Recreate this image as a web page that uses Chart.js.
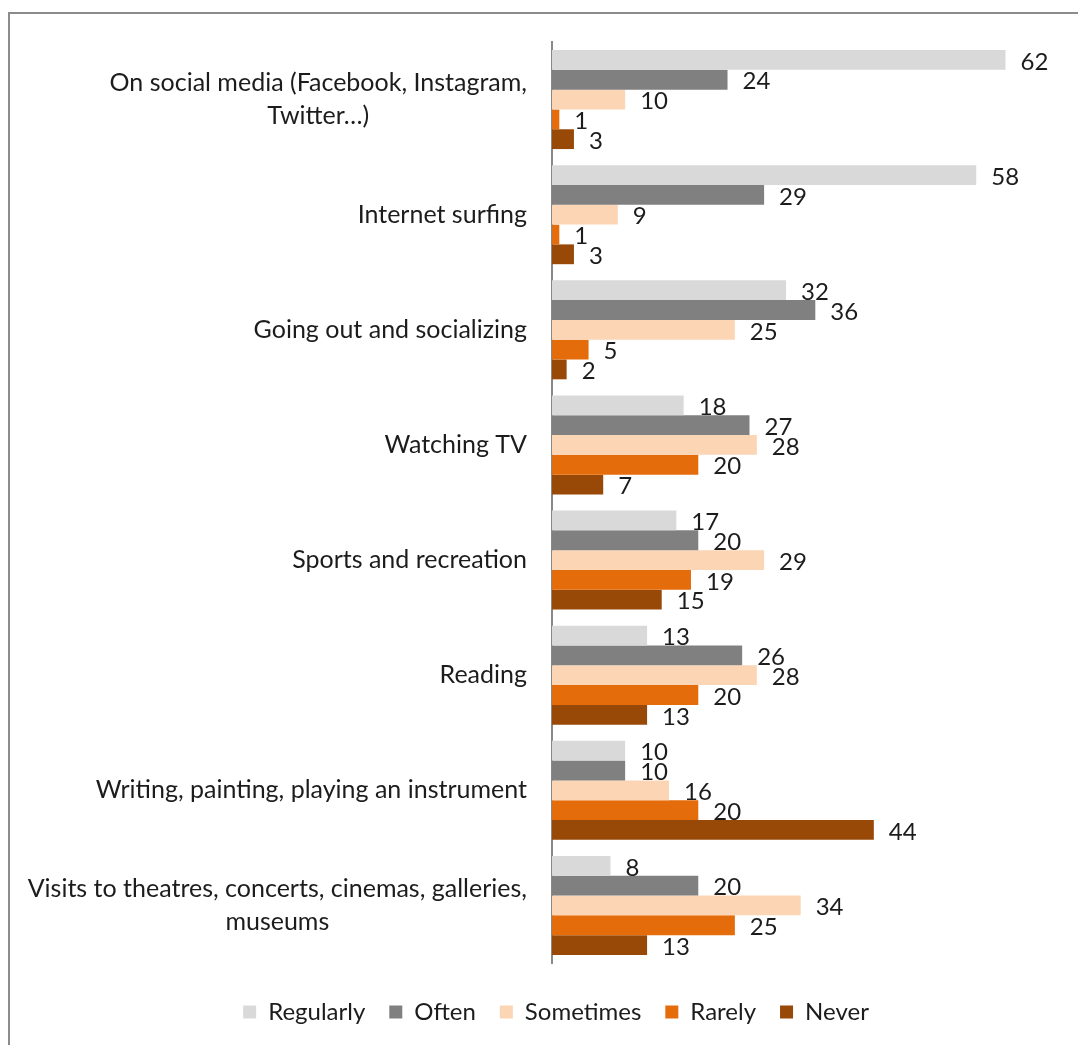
<!DOCTYPE html>
<html>
<head>
<meta charset="utf-8">
<script src="https://cdn.jsdelivr.net/npm/chart.js@4.4.0/dist/chart.umd.min.js"></script>
<style>
  html, body { margin: 0; padding: 0; background: #fff; }
  #wrap { position: relative; width: 1078px; height: 1045px; overflow: hidden; }
  #frame { position: absolute; left: 8px; top: 12px; width: 1100px; height: 1100px; border: 2px solid #8c8c8c; }
  canvas { position: absolute; left: 0; top: 0; }
</style>
</head>
<body>
<div id="wrap">
  <div id="frame"></div>
  <canvas id="myChart" width="1078" height="1045"></canvas>
</div>
<script>
const categories = [
  ['On social media (Facebook, Instagram,', 'Twitter…)'],
  'Internet surfing',
  'Going out and socializing',
  'Watching TV',
  'Sports and recreation',
  'Reading',
  'Writing, painting, playing an instrument',
  ['Visits to theatres, concerts, cinemas, galleries,', 'museums']
]
const regularly = [62, 58, 32, 18, 17, 13, 10, 8]
const often = [24, 29, 36, 27, 20, 26, 10, 20]
const sometimes = [10, 9, 25, 28, 29, 28, 16, 34]
const rarely = [1, 1, 5, 20, 19, 20, 20, 25]
const never = [3, 3, 2, 7, 15, 13, 44, 13]

const FONT = 'Lato'
const TEXT = '#1c1c1c'

// value labels just right of each bar
const barLabels = {
  id: 'barLabels',
  afterDatasetsDraw(chart) {
    const ctx = chart.ctx
    ctx.save()
    ctx.font = `24px ${FONT}`
    ctx.fillStyle = TEXT
    ctx.textBaseline = 'middle'
    ctx.textAlign = 'left'
    chart.data.datasets.forEach((ds, i) => {
      chart.getDatasetMeta(i).data.forEach((bar, j) => {
        ctx.fillText(ds.data[j], bar.x + 15, bar.y + 2)
      })
    })
    ctx.restore()
  }
}

// category labels: block right-aligned to the axis, lines centred inside the block
const categoryLabels = {
  id: 'categoryLabels',
  afterDraw(chart) {
    const ctx = chart.ctx
    const y = chart.scales.y
    const right = chart.chartArea.left - 25
    const lh = 33
    ctx.save()
    ctx.font = `25px ${FONT}`
    ctx.fillStyle = TEXT
    ctx.textBaseline = 'middle'
    ctx.textAlign = 'center'
    chart.data.labels.forEach((label, i) => {
      const lines = Array.isArray(label) ? label : [label]
      const w = Math.max(...lines.map(l => ctx.measureText(l).width))
      const cx = right - w / 2
      const cy = y.getPixelForTick(i)
      lines.forEach((line, k) => {
        ctx.fillText(line, cx, cy + (k - (lines.length - 1) / 2) * lh)
      })
    })
    ctx.restore()
  }
}

const makeSet = (label, data, color) => ({
  label,
  data,
  backgroundColor: color,
  borderWidth: 0,
  barPercentage: 1.0,
  categoryPercentage: 0.86
})

const ctx = document.getElementById('myChart').getContext('2d')
new Chart(ctx, {
  type: 'bar',
  data: {
    labels: categories,
    datasets: [
      makeSet('Regularly', regularly, '#d9d9d9'),
      makeSet('Often', often, '#808080'),
      makeSet('Sometimes', sometimes, '#fcd5b5'),
      makeSet('Rarely', rarely, '#e46c0a'),
      makeSet('Never', never, '#984807')
    ]
  },
  options: {
    indexAxis: 'y',
    responsive: false,
    animation: false,
    layout: { padding: { left: 48, right: 14, top: 42, bottom: 11 } },
    scales: {
      x: { display: false, min: 0, max: 70 },
      y: {
        grid: { display: false, drawTicks: false },
        border: { color: '#898989', width: 2 },
        ticks: { display: false },
        afterFit: (s) => { s.width = 504 }
      }
    },
    plugins: {
      tooltip: { enabled: false },
      legend: {
        position: 'bottom',
        // empty title only used as spacer above the legend row
        title: { display: true, text: '', padding: 0, font: { size: 13, lineHeight: 1 } },
        labels: {
          boxWidth: 13,
          boxHeight: 13,
          padding: 24,
          color: TEXT,
          font: { family: FONT, size: 24 }
        }
      }
    }
  },
  plugins: [barLabels, categoryLabels]
})
</script>
</body>
</html>
